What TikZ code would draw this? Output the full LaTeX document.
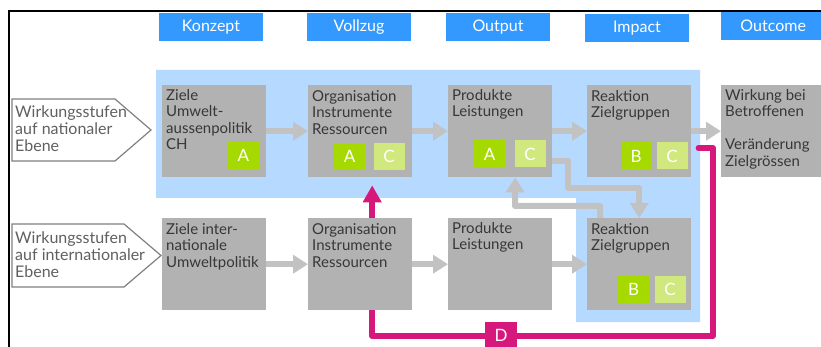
\documentclass[tikz,border=0pt]{standalone}
\usepackage{fontspec}
\setmainfont{Lato}
\usepackage{xcolor}
\usetikzlibrary{arrows.meta}

\definecolor{hdrblue}{RGB}{51,153,255}
\definecolor{areablue}{RGB}{182,217,255}
\definecolor{boxgray}{RGB}{178,178,178}
\definecolor{arrowgray}{RGB}{194,194,194}
\definecolor{limegreen}{RGB}{166,217,0}
\definecolor{palegreen}{RGB}{208,232,125}
\definecolor{pinkline}{RGB}{214,24,125}
\definecolor{tagtext}{RGB}{96,96,96}
\definecolor{boxtext}{RGB}{55,55,55}

\tikzset{
  hdr/.style={fill=hdrblue, text=white, minimum width=104pt, minimum height=28pt, inner sep=0pt, font=\fontsize{16}{16}\selectfont},
  stepbox/.style={fill=boxgray, anchor=north west, minimum width=104pt, minimum height=92pt, inner sep=0pt},
  steptext/.style={anchor=north west, align=left, inner sep=0pt, text=boxtext, font=\fontsize{15}{16.5}\selectfont},
  tagtext/.style={anchor=north west, align=left, inner sep=0pt, text=tagtext, font=\fontsize{16}{17}\selectfont},
  tagshape/.style={draw=gray, fill=white, line width=1.2pt, line join=miter},
  badge/.style={fill=limegreen, text=white, minimum width=31pt, minimum height=27pt, inner sep=0pt, font=\fontsize{17}{17}\selectfont},
  badgepale/.style={badge, fill=palegreen},
  grayarrow/.style={arrowgray, line width=6pt, line join=round, -{Triangle[length=15pt,width=18pt]}},
  pinkarrow/.style={pinkline, line width=5.5pt, line join=round, line cap=round, -{Triangle[length=17pt,width=18pt]}}
}

\begin{document}
\begin{tikzpicture}[x=1pt, y=-1pt]
    \useasboundingbox (0,0) rectangle (821,347);

    % frame
    \draw [line width=1.8pt] (9,347) -- (9,11) -- (821,11);

    % national area
    \fill [areablue] (156,70) -- (700,70) -- (700,322) -- (576,322) -- (576,198) -- (156,198) -- cycle;

    % headers
    \node [hdr] (hKonzept) at (211,27) {Konzept};
    \node [hdr] (hVollzug) at (359,27) {Vollzug};
    \node [hdr] (hOutput) at (498,27) {Output};
    \node [hdr] (hImpact) at (637,28) {Impact};
    \node [hdr, anchor=west] (hOutcome) at (721,26) {Outcome};

    % level tags
    \draw [tagshape] (12,99) -- (115,99) -- (151,130) -- (115,161) -- (12,161) -- cycle;
    \node [tagtext] (tagNat) at (15,106) {Wirkungsstufen\\auf nationaler\\Ebene};
    \draw [tagshape] (12,224) -- (124,224) -- (161,255.5) -- (124,287) -- (12,287) -- cycle;
    \node [tagtext] (tagInt) at (15,232) {Wirkungsstufen\\auf internationaler\\Ebene};

    % feedback D
    \coordinate (kPink) at (713,336);
    \coordinate (NR) at (587,85);
    \coordinate (NO) at (308,85);
    \node [stepbox, fill=none] (nReakPos) at (NR) {};
    \node [stepbox, fill=none] (nOrgPos) at (NO) {};
    \draw [pinkarrow] ([shift={(7,17)}]nReakPos.east) -| (kPink) -| ([shift={(12,8)}]nOrgPos.south);

    % upper row
    \node [stepbox] (nZiele) at (162,85) {};
    \node [stepbox] (nOrg) at (NO) {};
    \node [stepbox] (nProd) at (448,85) {};
    \node [stepbox] (nReak) at (NR) {};
    \node [stepbox] (nWirk) at (721,85) {};

    \node [steptext] (tZiele) at (166,89) {Ziele\\Umwelt-\\aussenpolitik\\CH};
    \node [steptext] (tOrg) at (312,90) {Organisation\\Instrumente\\Ressourcen};
    \node [steptext] (tProd) at (452,89) {Produkte\\Leistungen};
    \node [steptext] (tReak) at (591,90) {Reaktion\\Zielgruppen};
    \node [steptext] (tWirk) at (725,89) {Wirkung bei\\Betroffenen\\[16.5pt]Veränderung\\Zielgrössen};

    % lower row
    \node [stepbox] (iZiele) at (162,218) {};
    \node [stepbox] (iOrg) at (308,218) {};
    \node [stepbox] (iProd) at (448,218) {};
    \node [stepbox] (iReak) at (587,218) {};

    \node [steptext] (tiZiele) at (166,223) {Ziele inter-\\nationale\\Umweltpolitik};
    \node [steptext] (tiOrg) at (312,223) {Organisation\\Instrumente\\Ressourcen};
    \node [steptext] (tiProd) at (452,222) {Produkte\\Leistungen};
    \node [steptext] (tiReak) at (591,223) {Reaktion\\Zielgruppen};

    % badges
    \node [badge] (bZA) at (243.5,155.5) {A};
    \node [badge] (bOA) at (349.5,156.5) {A};
    \node [badgepale] (bOC) at (389,156.5) {C};
    \node [badge] (bPA) at (489.5,154) {A};
    \node [badgepale] (bPC) at (530,154) {C};
    \node [badge] (bRB) at (636,156) {B};
    \node [badgepale] (bRC) at (672,156) {C};
    \node [badge] (biRB) at (633.5,289.5) {B};
    \node [badgepale] (biRC) at (670,289) {C};

    % flow arrows
    \draw [grayarrow] (nZiele) -- (nOrg);
    \draw [grayarrow] (nOrg) -- (nProd);
    \draw [grayarrow] (nProd) -- (nReak);
    \draw [grayarrow] (nReak) -- (nWirk);
    \draw [grayarrow] (iZiele) -- (iOrg);
    \draw [grayarrow] (iOrg) -- (iProd);
    \draw [grayarrow] (iProd) -- (iReak);

    % cross links
    \coordinate (kDown) at (568,188);
    \coordinate (kUp) at (515,206);
    \draw [grayarrow] ([yshift=-30pt]nProd.east) -| (kDown) -| (iReak.north);
    \draw [grayarrow] ([xshift=-39pt]iReak.north) |- (kUp) -- ([xshift=15pt]nProd.south);

    % D label
    \node [fill=pinkline, text=white, minimum width=32pt, minimum height=26pt, inner sep=0pt, font=\fontsize{17}{17}\selectfont] (nD) at (501,335) {D};
\end{tikzpicture}
\end{document}
